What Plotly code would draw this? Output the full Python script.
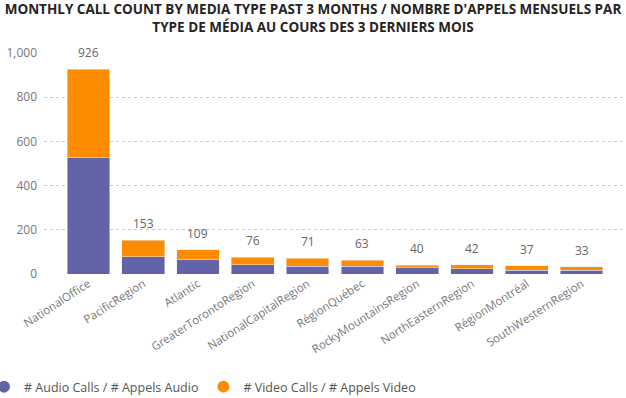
import plotly.graph_objects as go

categories = ["NationalOffice", "PacificRegion", "Atlantic", "GreaterTorontoRegion",
              "NationalCapitalRegion", "RégionQuébec", "RockyMountainsRegion",
              "NorthEasternRegion", "RégionMontréal", "SouthWesternRegion"]
audio = [525, 78, 64, 41, 36, 36, 28, 23, 18, 17]
video = [401, 75, 45, 35, 35, 27, 12, 19, 19, 16]
totals = [926, 153, 109, 76, 71, 63, 40, 42, 37, 33]
y_ticks = [0, 200, 400, 600, 800, 1000]

AUDIO_C = "#6264A7"
VIDEO_C = "#FF8C00"
FONT = "Open Sans"

fig = go.Figure()
fig.add_trace(go.Bar(x=categories, y=audio, marker_color=AUDIO_C, showlegend=False,
                     name="# Audio Calls / # Appels Audio"))
fig.add_trace(go.Bar(x=categories, y=video, marker_color=VIDEO_C, showlegend=False,
                     name="# Video Calls / # Appels Video"))
# legend entries (circle markers)
fig.add_trace(go.Scatter(x=[None], y=[None], mode="markers", name="# Audio Calls / # Appels Audio",
                         marker=dict(symbol="circle", size=11, color=AUDIO_C)))
fig.add_trace(go.Scatter(x=[None], y=[None], mode="markers", name="# Video Calls / # Appels Video",
                         marker=dict(symbol="circle", size=11, color=VIDEO_C)))

for c, t in zip(categories, totals):
    fig.add_annotation(x=c, y=t, text=f"{t:,}", showarrow=False, yanchor="bottom", yshift=6,
                       font=dict(family=FONT, size=12, color="#666666"))

fig.update_layout(
    width=626, height=398,
    margin=dict(l=44, r=0, t=53, b=124, autoexpand=False),
    barmode="stack", bargap=0.22,
    plot_bgcolor="white", paper_bgcolor="white",
    font=dict(family=FONT, color="#777777"),
    title=dict(text="MONTHLY CALL COUNT BY MEDIA TYPE PAST 3 MONTHS / NOMBRE D'APPELS MENSUELS PAR<br>TYPE DE MÉDIA AU COURS DES 3 DERNIERS MOIS",
               x=0.5, xanchor="center", xref="container", yref="container",
               y=1 - 14 / 398, yanchor="top",
               font=dict(family=FONT, size=13.5, color="#252423", weight="bold")),
    legend=dict(orientation="h", x=-60 / 582, xref="paper", xanchor="left",
                yref="paper", y=-(387 - 274) / 221, yanchor="middle", traceorder="normal",
                font=dict(family=FONT, size=12.5, color="#555555"),
                itemsizing="constant", itemwidth=30),
    xaxis=dict(range=[-0.81, 9.81], tickangle=-33, showgrid=False, showline=False, ticks="",
               automargin=False,
               tickfont=dict(family=FONT, size=11.5, color="#777777")),
    yaxis=dict(range=[0, 1000], tickvals=y_ticks, tickformat=",", showgrid=True,
               gridcolor="#CCCCCC", griddash="dot", gridwidth=1, zeroline=False,
               ticklabelstandoff=6, automargin=False,
               tickfont=dict(family=FONT, size=12, color="#777777")),
)
fig.write_html("out.html", config={"displayModeBar": False},
               post_script="document.body.style.margin='0';")
